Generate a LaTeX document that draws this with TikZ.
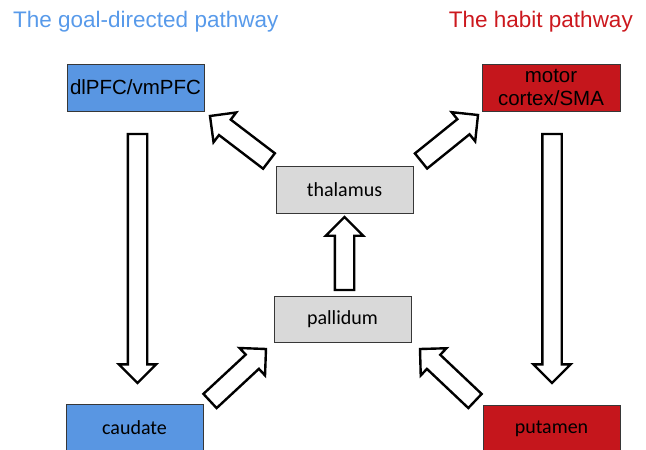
\documentclass[tikz,border=0pt]{standalone}
\usepackage{fontspec}
\setmainfont{Liberation Sans}
\newfontfamily\calibri{Carlito}
\usetikzlibrary{shapes.arrows, calc}

\definecolor{goalblue}{RGB}{89,150,226}
\definecolor{goaltitle}{RGB}{88,154,234}
\definecolor{habitred}{RGB}{197,22,28}
\definecolor{habittitle}{RGB}{204,24,30}
\definecolor{relaygray}{RGB}{217,217,217}
\definecolor{edgegray}{RGB}{55,55,55}

\begin{document}
\begin{tikzpicture}[x = 1pt, y = -1pt,
	box/.style = {draw = edgegray, line width = 1pt, minimum width = 137pt, minimum height = 47pt, inner sep = 0pt, align = center},
	cortexbox/.style = {box, font = \fontsize{20.5}{23}\selectfont},
	relaybox/.style = {box, fill = relaygray, font = \calibri\fontsize{20}{23}\selectfont},
	title/.style = {inner sep = 0pt, font = \fontsize{22.5}{27}\selectfont},
	blockarrow/.style = {single arrow, draw = black, fill = white, line width = 2.4pt, inner sep = 8.5pt, outer sep = 0pt, single arrow head extend = 9pt, single arrow tip angle = 90}]

	% Frame
	
	\useasboundingbox (0, 0) rectangle (646, 450);
	
	% Titles
	
	\node [title, text = goaltitle, anchor = base west] (goaltitle) at (13, 27) {The goal-directed pathway};
	\node [title, text = habittitle, anchor = base east] (habittitle) at (633, 27) {The habit pathway};
	
	% Cortex boxes
	
	\node [cortexbox, fill = goalblue] (dlpfc) at (135.5, 87.5) {dlPFC/vmPFC};
	\node [cortexbox, fill = habitred, minimum width = 138pt] (motor) at (551, 87.5) {motor\\cortex/SMA};
	
	% Relay boxes
	
	\node [relaybox] (thalamus) at (344.5, 189.5) {thalamus};
	\node [relaybox, minimum height = 46pt] (pallidum) at (342.5, 319) {pallidum};
	\node [relaybox, fill = goalblue] (caudate) at (134.5, 427.5) {caudate};
	\node [relaybox, fill = habitred] (putamen) at (551.5, 428.5) {putamen};
	
	% Arrow ends
	
	\coordinate (goal-s) at (137.5, 134);
	\coordinate (goal-e) at (137.5, 383);
	\coordinate (habit-s) at (552, 134);
	\coordinate (habit-e) at (552, 383);
	\coordinate (relay-s) at (344.5, 290);
	\coordinate (relay-e) at (344.5, 217);
	\coordinate (thal-l-s) at (269, 161);
	\coordinate (thal-l-e) at (210, 116);
	\coordinate (thal-r-s) at (421, 161);
	\coordinate (thal-r-e) at (478, 115);
	\coordinate (caud-s) at (210, 401);
	\coordinate (caud-e) at (266, 349);
	\coordinate (put-s) at (475, 401);
	\coordinate (put-e) at (420, 349);
	
	% Block arrows
	
	\foreach \s/\e in {goal-s/goal-e, habit-s/habit-e, relay-s/relay-e, thal-l-s/thal-l-e, thal-r-s/thal-r-e, caud-s/caud-e, put-s/put-e}
	{
		\path let \p1 = ($(\e) - (\s)$), \n1 = {veclen(\x1, \y1)} in (\s) -- (\e) node [pos = 1, sloped, allow upside down, anchor = tip, blockarrow, minimum height = \n1] {};
	}

\end{tikzpicture}
\end{document}
